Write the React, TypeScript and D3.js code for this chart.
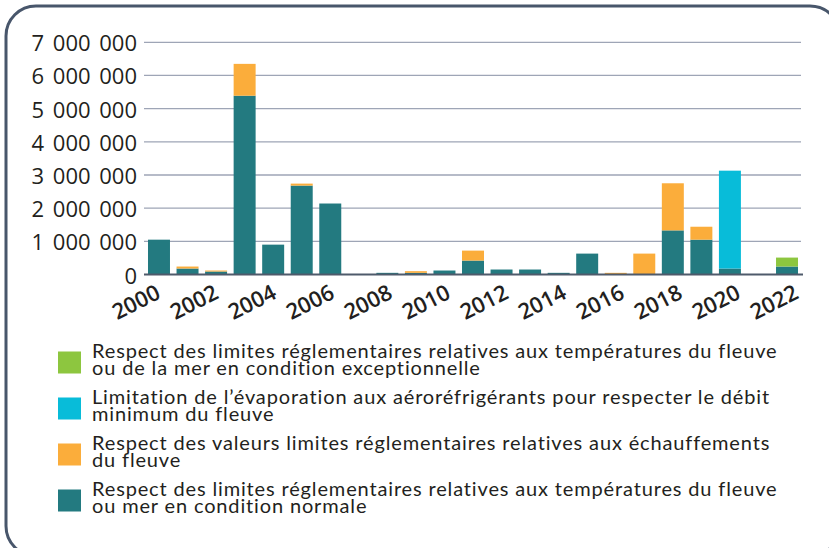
import React from 'react';
import * as d3 from 'd3';

const years = ['2000', '2001', '2002', '2003', '2004', '2005', '2006', '2007', '2008', '2009', '2010', '2011',
  '2012', '2013', '2014', '2015', '2016', '2017', '2018', '2019', '2020', '2021', '2022'];

// temperature limits, normal conditions
const normale = [1050000, 180000, 90000, 5390000, 900000, 2680000, 2140000, 0, 50000, 50000, 120000, 420000,
  150000, 150000, 50000, 630000, 0, 0, 1330000, 1050000, 180000, 0, 240000];
// heating limits
const echauffements = [0, 60000, 30000, 960000, 0, 60000, 0, 0, 0, 50000, 0, 300000,
  0, 0, 0, 0, 50000, 630000, 1420000, 390000, 0, 0, 0];
// evaporation limitation
const evaporation = [0, 0, 0, 0, 0, 0, 0, 0, 0, 0, 0, 0,
  0, 0, 0, 0, 0, 0, 0, 0, 2950000, 0, 0];
// temperature limits, exceptional conditions
const exceptionnelle = [0, 0, 0, 0, 0, 0, 0, 0, 0, 0, 0, 0,
  0, 0, 0, 0, 0, 0, 0, 0, 0, 0, 270000];

const yTicks = [0, 1000000, 2000000, 3000000, 4000000, 5000000, 6000000, 7000000];
const xLabels = ['2000', '2002', '2004', '2006', '2008', '2010', '2012', '2014', '2016', '2018', '2020', '2022'];

const seriesKeys = ['normale', 'echauffements', 'evaporation', 'exceptionnelle'];
const colors: any = {
  normale: '#237a80',
  echauffements: '#fbad3b',
  evaporation: '#08bcd9',
  exceptionnelle: '#8dc63f'
};

const legendItems = [
  { key: 'exceptionnelle', lines: ['Respect des limites réglementaires relatives aux températures du fleuve', 'ou de la mer en condition exceptionnelle'] },
  { key: 'evaporation', lines: ['Limitation de l’évaporation aux aéroréfrigérants pour respecter le débit', 'minimum du fleuve'] },
  { key: 'echauffements', lines: ['Respect des valeurs limites réglementaires relatives aux échauffements', 'du fleuve'] },
  { key: 'normale', lines: ['Respect des limites réglementaires relatives aux températures du fleuve', 'ou mer en condition normale'] }
];

const fmt = d3.formatLocale({ decimal: ',', thousands: ' ', grouping: [3], currency: ['', ' €'] }).format(',');

const App = () => {
  const rows = years.map((y, i) => ({
    year: y,
    normale: normale[i],
    echauffements: echauffements[i],
    evaporation: evaporation[i],
    exceptionnelle: exceptionnelle[i]
  }));
  const stacked = d3.stack<any>().keys(seriesKeys)(rows);

  const x = d3.scaleBand().domain(years).range([144, 802]).paddingInner(0.23).paddingOuter(0.14);
  const y = d3.scaleLinear().domain([0, 7000000]).range([274.5, 42.3]);
  // tick labels sit on a slightly wider spacing than the bars
  const xLab = d3.scaleLinear().domain([2000, 2022]).range([162, 800]);

  return (
    <svg width={829} height={548} style={{ position: 'absolute', left: 0, top: 0 }}>
      <rect x={6} y={6} width={834} height={550} rx={30} ry={30} fill="white" stroke="#48566b" strokeWidth={3} />

      {/* gridlines */}
      {yTicks.slice(1).map((t) => (
        <line key={t} x1={144} x2={801} y1={y(t)} y2={y(t)} stroke="#9ea5b6" strokeWidth={1.3} />
      ))}

      {/* y labels */}
      {yTicks.map((t) => (
        <text key={t} x={137} y={y(t)} textAnchor="end" dominantBaseline="central"
          fontFamily="Open Sans" fontSize={22} fill="#231f20" style={{ wordSpacing: '3px' }}>
          {fmt(t)}
        </text>
      ))}

      {/* bars */}
      {stacked.map((s: any) => (
        <g key={s.key} fill={colors[s.key]}>
          {s.map((d: any, i: number) => d[1] - d[0] > 0 ? (
            <rect key={i} x={x(d.data.year)} width={x.bandwidth()} y={y(d[1])} height={y(d[0]) - y(d[1])} />
          ) : null)}
        </g>
      ))}

      {/* baseline */}
      <line x1={144} x2={803} y1={y(0)} y2={y(0)} stroke="#4f5a6b" strokeWidth={2} />

      {/* x labels */}
      {xLabels.map((l) => (
        <text key={l} transform={`translate(${xLab(+l)},297.5) rotate(-27)`} textAnchor="end"
          fontFamily="Open Sans" fontWeight={600} fontSize={22} fill="#231f20">
          {l}
        </text>
      ))}

      {/* legend */}
      {legendItems.map((item, i) => (
        <g key={item.key} transform={`translate(0,${i * 46})`}>
          <rect x={58} y={351.5} width={23} height={22} fill={colors[item.key]} />
          {item.lines.map((line, j) => (
            <text key={j} x={92} y={357.5 + j * 17.5} fontFamily="Lato" fontSize={20}
              letterSpacing={0.85} fill="#231f20">
              {line}
            </text>
          ))}
        </g>
      ))}
    </svg>
  );
};

export default App;
